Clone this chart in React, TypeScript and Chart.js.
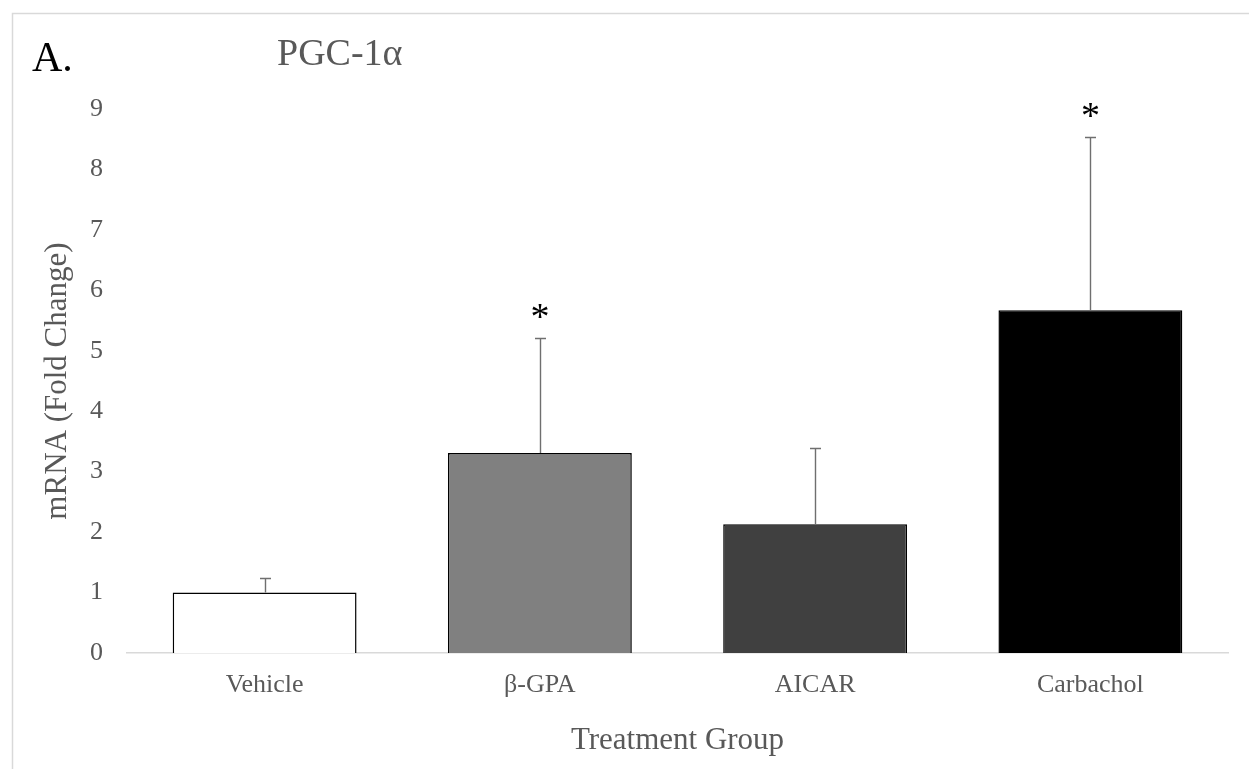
import React, { useEffect, useRef } from "react";
import { Chart, registerables } from "chart.js";

Chart.register(...registerables);

const categories = ["Vehicle", "β-GPA", "AICAR", "Carbachol"];
const meanValues = [1.0, 3.31, 2.13, 5.67];
const errorTops = [1.24, 5.21, 3.39, 8.54];
const significant = [false, true, false, true];
const barColors = ["#ffffff", "#808080", "#404040", "#000000"];
const yTicks = [0, 1, 2, 3, 4, 5, 6, 7, 8, 9];

const SERIF = '"Liberation Serif", "Times New Roman", serif';

const annotationPlugin = {
  id: "annotations",
  beforeDraw(chart: any) {
    const ctx = chart.ctx;
    ctx.save();
    ctx.strokeStyle = "#d9d9d9";
    ctx.lineWidth = 1.5;
    ctx.beginPath();
    ctx.moveTo(12.5, chart.height + 5);
    ctx.lineTo(12.5, 13.5);
    ctx.lineTo(chart.width + 5, 13.5);
    ctx.stroke();
    ctx.restore();
  },
  afterDatasetsDraw(chart: any) {
    const ctx = chart.ctx;
    const x = chart.scales.x;
    const y = chart.scales.y;
    ctx.save();
    // error bars
    ctx.strokeStyle = "#6f6f6f";
    ctx.lineWidth = 1.4;
    errorTops.forEach((top, i) => {
      const cx = Math.round(x.getPixelForValue(i)) + 0.5;
      const y0 = y.getPixelForValue(meanValues[i]);
      const y1 = Math.round(y.getPixelForValue(top)) + 0.5;
      ctx.beginPath();
      ctx.moveTo(cx, y0);
      ctx.lineTo(cx, y1);
      ctx.moveTo(cx - 5.5, y1);
      ctx.lineTo(cx + 5.5, y1);
      ctx.stroke();
    });
    // significance asterisks
    ctx.fillStyle = "#000000";
    ctx.font = `38px ${SERIF}`;
    ctx.textAlign = "center";
    ctx.textBaseline = "alphabetic";
    significant.forEach((sig, i) => {
      if (!sig) return;
      const cx = x.getPixelForValue(i);
      const ty = y.getPixelForValue(errorTops[i]) - 26;
      ctx.fillText("*", cx, ty + 17);
    });
    // panel label and title
    ctx.textAlign = "left";
    ctx.fillStyle = "#000000";
    ctx.font = `42px ${SERIF}`;
    ctx.fillText("A.", 32, 71);
    ctx.fillStyle = "#595959";
    ctx.font = `38px ${SERIF}`;
    ctx.fillText("PGC-1α", 277, 65);
    ctx.restore();
  },
};

export default function App() {
  const ref = useRef<HTMLCanvasElement | null>(null);

  useEffect(() => {
    if (!ref.current) return;
    const chart = new Chart(ref.current, {
      type: "bar",
      data: {
        labels: categories,
        datasets: [
          {
            data: meanValues,
            backgroundColor: barColors,
            borderColor: "#000000",
            borderWidth: 1.5,
            barPercentage: 0.668,
            categoryPercentage: 1,
          },
        ],
      },
      options: {
        responsive: false,
        animation: false,
        layout: { padding: { top: 109, right: 21, left: 0, bottom: 0 } },
        plugins: {
          legend: { display: false },
          tooltip: { enabled: false },
          title: { display: false },
        },
        scales: {
          x: {
            grid: { display: false, drawTicks: false },
            border: { display: true, color: "#d9d9d9", width: 1.5 },
            ticks: {
              color: "#595959",
              font: { family: SERIF, size: 26 },
              padding: 17,
            },
            title: {
              display: true,
              text: "Treatment Group",
              color: "#595959",
              font: { family: SERIF, size: 31 },
              padding: { top: 0, bottom: 10 },
            },
            afterFit(scale: any) {
              scale.height = 116;
            },
          },
          y: {
            min: 0,
            max: 9,
            afterBuildTicks(scale: any) {
              scale.ticks = yTicks.map((v) => ({ value: v }));
            },
            grid: { display: false, drawTicks: false },
            border: { display: false },
            ticks: {
              color: "#595959",
              font: { family: SERIF, size: 26 },
              padding: 24,
            },
            title: {
              display: true,
              text: "mRNA (Fold Change)",
              color: "#595959",
              font: { family: SERIF, size: 31 },
              padding: { top: 39, bottom: 0 },
            },
            afterFit(scale: any) {
              scale.width = 127;
            },
          },
        },
      },
      plugins: [annotationPlugin],
    });
    return () => chart.destroy();
  }, []);

  return (
    <div style={{ position: "absolute", left: 0, top: 0, width: 1249, height: 769, background: "#ffffff" }}>
      <canvas ref={ref} width={1249} height={769} />
    </div>
  );
}
